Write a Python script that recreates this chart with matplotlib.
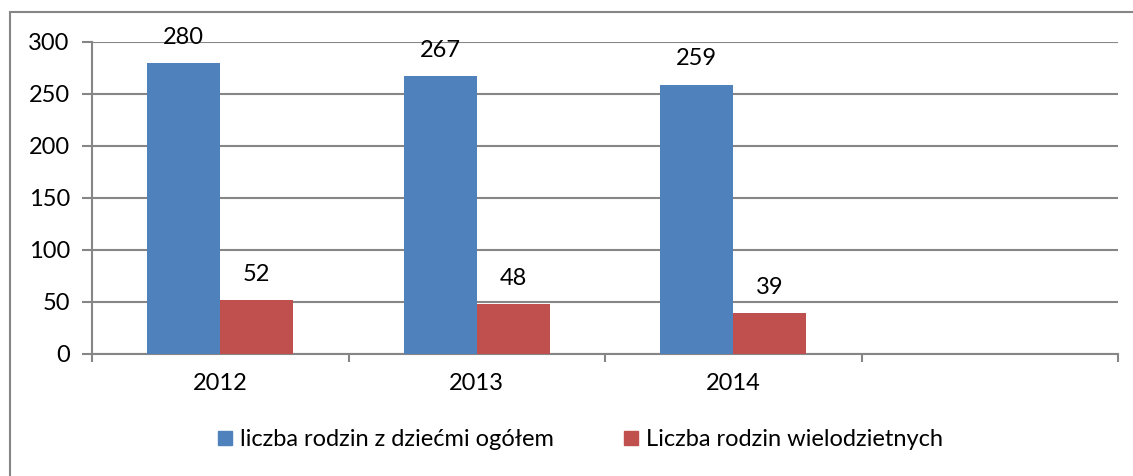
import matplotlib.pyplot as plt
from matplotlib.lines import Line2D
from matplotlib.patches import Rectangle

plt.rcParams['font.family'] = ['Lato', 'DejaVu Sans']

years = ["2012", "2013", "2014", ""]
ogolem = [280, 267, 259]
wielodzietne = [52, 48, 39]
names = ["liczba rodzin z dziećmi ogółem", "Liczba rodzin wielodzietnych"]
colors = ["#4F81BD", "#C0504D"]
grid_col = "#868686"
fs = 17

fig = plt.figure(figsize=(11.33, 4.76), dpi=100)
ax = fig.add_axes([92/1133, 1-354/476, (1118-92)/1133, (354-42)/476])

# frame around chart (cut at right and bottom like the source)
fig.patches.append(Rectangle((10/1133, -0.1), 1.2, 1-12/476+0.1, transform=fig.transFigure,
                             fill=False, edgecolor=grid_col, linewidth=1.5, zorder=0))

w = 0.284
xs = range(len(ogolem))
b1 = ax.bar([x - w/2 for x in xs], ogolem, w, color=colors[0], zorder=3)
b2 = ax.bar([x + w/2 for x in xs], wielodzietne, w, color=colors[1], zorder=3)
for bars, vals in ((b1, ogolem), (b2, wielodzietne)):
    for r, v in zip(bars, vals):
        ax.annotate(str(v), (r.get_x() + r.get_width()/2, v), xytext=(0, 11),
                    textcoords="offset points", ha="center", va="bottom", fontsize=fs)

ax.set_xlim(-0.5, len(years) - 0.5)
ax.set_ylim(0, 300)
ax.set_yticks(range(0, 301, 50))
ax.set_xticks([i - 0.5 for i in range(len(years) + 1)])
ax.set_xticklabels([])
ax.set_xticks(range(len(years)), minor=True)
ax.set_xticklabels(years, minor=True)
ax.tick_params(axis="x", which="major", length=6, width=1.5, color=grid_col, direction="out")
ax.tick_params(axis="x", which="minor", length=0, pad=14, labelsize=fs)
ax.tick_params(axis="y", length=7, width=1.5, color=grid_col, labelsize=fs, pad=9)

ax.grid(axis="y", color=grid_col, linewidth=1.5, zorder=0)
for s in ("top", "right"):
    ax.spines[s].set_visible(False)
for s in ("left", "bottom"):
    ax.spines[s].set_color(grid_col)
    ax.spines[s].set_linewidth(1.5)

handles = [Line2D([], [], marker="s", linestyle="none", markersize=10, color=c) for c in colors]
fig.legend(handles, names, loc="center", bbox_to_anchor=(580/1133, 1-440/476), ncol=2,
           frameon=False, fontsize=fs, handlelength=0.7, handletextpad=0.3, columnspacing=2.9)

fig.savefig("out.png", dpi=100)
